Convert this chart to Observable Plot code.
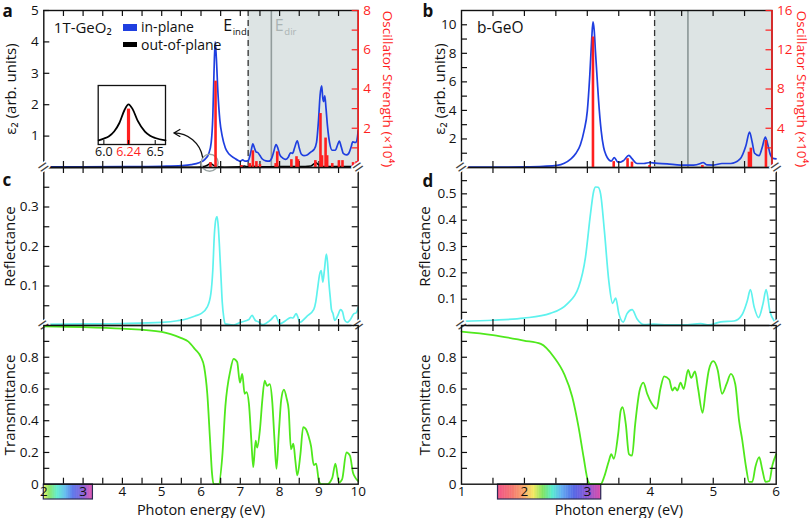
<!DOCTYPE html>
<html><head><meta charset="utf-8">
<script src="https://cdn.jsdelivr.net/npm/d3@7"></script>
<script src="https://cdn.jsdelivr.net/npm/@observablehq/plot@0.6"></script>
<style>
body{margin:0;background:#fff;}
#chart{position:relative;width:810px;height:518px;font-family:"Open Sans",sans-serif;overflow:hidden;background:#fff;}
#chart svg{position:absolute;left:0;top:0;}
.sw{position:absolute;}
.lt{position:absolute;font-size:14px;line-height:14px;color:#111;white-space:nowrap;}
</style></head><body><div id="chart"></div>
<script>
// ================= DATA =================
// Panel a: 1T-GeO2 epsilon_2 (arb. units) vs photon energy (eV)
const epsA_in = [[2.0,0.02],[3.0,0.02],[4.0,0.025],[5.0,0.04],[5.5,0.06],[5.75,0.09],[5.95,0.15],[6.1,0.26],[6.2,0.45],[6.26,0.8],[6.3,1.6],[6.33,3.0],[6.36,4.0],[6.39,3.5],[6.43,2.4],[6.48,1.5],[6.54,1.0],[6.62,0.62],[6.72,0.42],[6.85,0.3],[6.95,0.22],[7.0,0.2],[7.06,0.24],[7.12,0.2],[7.2,0.22],[7.27,0.5],[7.32,0.75],[7.36,0.62],[7.4,0.5],[7.45,0.47],[7.5,0.38],[7.56,0.27],[7.65,0.21],[7.73,0.2],[7.8,0.3],[7.85,0.5],[7.91,0.73],[7.96,0.6],[8.0,0.42],[8.08,0.3],[8.15,0.26],[8.22,0.33],[8.28,0.47],[8.33,0.45],[8.38,0.62],[8.45,0.85],[8.5,0.62],[8.55,0.43],[8.62,0.38],[8.7,0.4],[8.8,0.5],[8.88,0.58],[8.94,0.8],[8.99,1.5],[9.03,2.3],[9.07,2.6],[9.1,2.2],[9.12,2.1],[9.15,2.28],[9.18,1.9],[9.22,1.3],[9.27,0.8],[9.34,0.55],[9.42,0.55],[9.47,0.7],[9.52,0.84],[9.57,0.65],[9.62,0.45],[9.7,0.4],[9.76,0.45],[9.82,0.65],[9.86,0.82],[9.9,0.8],[9.95,0.8],[10.0,1.17]];
const epsA_out = [[2.0,0.0],[5.9,0.01],[6.1,0.04],[6.2,0.1],[6.24,0.14],[6.28,0.1],[6.4,0.03],[6.6,0.01],[7.0,0.02],[7.1,0.05],[7.2,0.02],[7.3,0.04],[7.5,0.02],[8.0,0.03],[8.5,0.03],[8.8,0.05],[8.88,0.12],[8.93,0.15],[8.98,0.1],[9.1,0.03],[9.5,0.03],[10.0,0.04]];
// oscillator strength (x10^4)
const oscA = [[6.24,0.25],[6.37,4.4],[7.03,0.1],[7.24,0.2],[7.32,0.85],[7.41,0.3],[7.5,0.15],[7.9,0.2],[7.94,0.8],[8.3,0.4],[8.43,0.55],[8.47,0.4],[8.91,0.35],[9.04,2.75],[9.08,0.6],[9.17,1.5],[9.21,0.6],[9.34,0.2],[9.51,0.35],[9.6,0.35],[9.87,0.25],[9.96,0.3]];
const gapsA = {Eind: 7.2, Edir: 7.79};
// inset (zoom of out-of-plane peak)
const insetCurve = [[5.95,0.07],[6.0,0.1],[6.05,0.14],[6.1,0.22],[6.15,0.36],[6.2,0.58],[6.24,0.68],[6.28,0.6],[6.33,0.4],[6.4,0.22],[6.45,0.15],[6.5,0.11],[6.6,0.07]];
const insetStick = [[6.24,0.6]];
const insetTicks = [6.0,6.24,6.5];
const insetLabels = ["6.0","6.24","6.5"];
const circleA = [[6.22,0.15]];
const arrowA = [[6.04,0.33,5.31,1.1]];

// Panel b: b-GeO
const epsB_in = [[1.0,0.02],[1.5,0.02],[2.0,0.04],[2.3,0.08],[2.52,0.15],[2.73,0.57],[2.82,1.0],[2.89,1.6],[2.95,2.6],[3.0,3.95],[3.04,6.5],[3.07,9.0],[3.09,10.2],[3.11,9.6],[3.13,8.1],[3.16,6.0],[3.18,4.65],[3.22,2.6],[3.26,1.4],[3.3,0.85],[3.34,0.55],[3.38,0.45],[3.43,0.69],[3.48,0.4],[3.53,0.38],[3.58,0.5],[3.66,0.85],[3.71,0.62],[3.79,0.28],[3.9,0.28],[3.99,0.35],[4.08,0.3],[4.27,0.26],[4.48,0.17],[4.69,0.17],[4.8,0.28],[4.84,0.35],[4.9,0.18],[5.01,0.17],[5.14,0.28],[5.28,0.28],[5.43,0.6],[5.52,1.5],[5.58,2.48],[5.62,1.8],[5.66,1.0],[5.73,0.83],[5.78,1.4],[5.83,2.13],[5.87,1.6],[5.91,0.9],[5.95,0.65],[6.0,0.6]];
const oscB = [[3.09,13.3],[3.42,0.6],[3.64,0.9],[3.71,0.55],[3.99,0.2],[4.83,0.2],[5.57,1.56],[5.6,1.97],[5.84,2.75]];
const gapsB = {Eind: 4.07, Edir: 4.6};

// Panel c: 1T-GeO2 reflectance & transmittance
const reflC = [[2.0,0.003],[3.0,0.004],[4.0,0.005],[5.0,0.008],[5.4,0.012],[5.65,0.017],[5.85,0.024],[6.0,0.03],[6.16,0.047],[6.25,0.08],[6.3,0.14],[6.34,0.23],[6.38,0.27],[6.41,0.276],[6.44,0.25],[6.47,0.2],[6.51,0.12],[6.54,0.06],[6.58,0.02],[6.62,0.004],[6.83,0.001],[7.0,0.008],[7.22,0.015],[7.3,0.026],[7.35,0.018],[7.39,0.012],[7.45,0.01],[7.56,0.002],[7.77,0.014],[7.9,0.026],[7.95,0.015],[8.0,0.004],[8.15,0.012],[8.28,0.02],[8.34,0.019],[8.42,0.03],[8.47,0.02],[8.51,0.008],[8.7,0.024],[8.87,0.041],[8.92,0.06],[8.96,0.088],[9.02,0.13],[9.06,0.139],[9.1,0.11],[9.14,0.14],[9.19,0.181],[9.22,0.16],[9.25,0.114],[9.29,0.07],[9.32,0.04],[9.36,0.03],[9.4,0.013],[9.48,0.025],[9.55,0.04],[9.6,0.035],[9.65,0.015],[9.72,0.008],[9.8,0.015],[9.89,0.03],[9.95,0.032],[10.0,0.046]];
const transC = [[2.0,0.995],[3.0,0.99],[4.0,0.98],[5.0,0.96],[5.5,0.92],[5.67,0.9],[5.85,0.85],[6.0,0.8],[6.08,0.74],[6.16,0.57],[6.23,0.28],[6.28,0.07],[6.32,0.0],[6.45,0.0],[6.54,0.17],[6.62,0.49],[6.75,0.72],[6.83,0.79],[6.92,0.77],[6.99,0.64],[7.05,0.695],[7.11,0.57],[7.16,0.58],[7.22,0.506],[7.28,0.28],[7.33,0.107],[7.39,0.275],[7.43,0.23],[7.5,0.345],[7.56,0.53],[7.62,0.653],[7.68,0.62],[7.75,0.63],[7.81,0.53],[7.87,0.28],[7.92,0.097],[7.98,0.32],[8.04,0.53],[8.11,0.595],[8.18,0.54],[8.23,0.47],[8.29,0.22],[8.35,0.255],[8.4,0.15],[8.45,0.055],[8.53,0.19],[8.6,0.36],[8.66,0.35],[8.74,0.3],[8.8,0.24],[8.87,0.12],[8.93,0.13],[9.0,0.02],[9.06,0.0],[9.21,0.0],[9.34,0.04],[9.42,0.13],[9.51,0.01],[9.59,0.03],[9.7,0.2],[9.79,0.18],[9.87,0.07],[9.93,0.04],[10.0,0.02]];

// Panel d: b-GeO reflectance & transmittance
const reflD = [[1.0,0.016],[1.5,0.02],[1.99,0.028],[2.41,0.046],[2.68,0.082],[2.86,0.145],[2.97,0.26],[3.05,0.425],[3.1,0.51],[3.13,0.526],[3.17,0.525],[3.21,0.5],[3.27,0.36],[3.34,0.17],[3.4,0.084],[3.45,0.104],[3.5,0.045],[3.57,0.013],[3.63,0.045],[3.71,0.06],[3.79,0.025],[3.9,0.003],[4.06,0.005],[4.27,0.002],[4.53,0.002],[4.8,0.007],[4.93,0.002],[5.12,0.014],[5.33,0.017],[5.46,0.042],[5.54,0.093],[5.59,0.136],[5.65,0.07],[5.72,0.03],[5.79,0.082],[5.84,0.136],[5.9,0.054],[5.97,0.017],[6.0,0.01]];
const transD = [[1.0,0.962],[1.5,0.94],[1.99,0.905],[2.26,0.884],[2.47,0.8],[2.63,0.695],[2.76,0.55],[2.86,0.36],[2.94,0.17],[3.01,0.02],[3.05,0.0],[3.21,0.0],[3.27,0.05],[3.34,0.145],[3.38,0.19],[3.42,0.16],[3.49,0.32],[3.53,0.465],[3.56,0.485],[3.61,0.38],[3.66,0.19],[3.71,0.18],[3.76,0.38],[3.83,0.59],[3.89,0.64],[3.95,0.57],[4.02,0.51],[4.1,0.475],[4.16,0.6],[4.22,0.68],[4.3,0.66],[4.35,0.59],[4.39,0.61],[4.43,0.59],[4.48,0.64],[4.53,0.6],[4.6,0.72],[4.65,0.67],[4.71,0.71],[4.76,0.6],[4.83,0.45],[4.88,0.59],[4.93,0.72],[5.0,0.775],[5.07,0.72],[5.14,0.57],[5.21,0.63],[5.28,0.695],[5.35,0.63],[5.41,0.4],[5.46,0.28],[5.52,0.11],[5.57,0.015],[5.62,0.015],[5.67,0.11],[5.73,0.17],[5.78,0.09],[5.83,0.015],[5.89,0.02],[5.94,0.12],[6.0,0.19]];

// visible spectrum colour bars (eV range and colour stops)
const barL = [2.0, 3.25];
const barR = [1.58, 3.22];
const specL_E = [2.0,2.15,2.35,2.55,2.75,3.0,3.25];
const specL_C = ["#f2f040","#6fe046","#3fe8c4","#40b2ea","#3858e6","#6a3fd0","#e030a0"];
const specR_E = [1.58,1.8,2.0,2.15,2.3,2.45,2.6,2.8,3.0,3.22];
const specR_C = ["#ee3a78","#f2605c","#f79a55","#f3e64a","#6be04a","#3fe8c8","#4aa0f0","#3c4ee0","#7a3fd0","#d6309a"];

// ticks and labels
const xLabL = [2,3,4,5,6,7,8,9,10];
const xMinL = [2.5,3,3.5,4,4.5,5,5.5,6,6.5,7,7.5,8,8.5,9,9.5];
const xLabR = [1,2,3,4,5,6];
const xMinR = [1.5,2,2.5,3,3.5,4,4.5,5,5.5];
const epsTicksA = [1,2,3,4,5];
const epsTicksB = [2,4,6,8,10];
const epsMinB = [1,2,3,4,5,6,7,8,9,10];
const oscTicksA = [2,4,6,8];
const oscMinA = [1,2,3,4,5,6,7,8];
const oscTicksB = [4,8,12,16];
const oscMinB = [2,4,6,8,10,12,14,16];
const refTicksC = [0.1,0.2,0.3];
const refMinC = [0.05,0.1,0.15,0.2,0.25,0.3,0.35];
const refTicksD = [0.1,0.2,0.3,0.4,0.5];
const refMinD = [0.05,0.1,0.15,0.2,0.25,0.3,0.35,0.4,0.45,0.5,0.55];
const trTicks = [0,0.2,0.4,0.6,0.8];
const trMin = [0.1,0.2,0.3,0.4,0.5,0.6,0.7,0.8,0.9];

// ================= DRAWING =================
const W = 810, H = 518;
const root = document.getElementById("chart");
const FONT = "'Open Sans', sans-serif";
const BLUE = "#1f3fe0", RED = "#ff1f1f", CYAN = "#5ef2ee", GREEN = "#4fe81c", SHADE = "#dde4e4";
const TL = 6; // tick length
const fmt = d => String(d);

function add({x0, x1, y0, y1, xDomain, yDomain, xAxis = null, yAxis = null, xTicks, yTicks, color = "#111", marks, color_scale}) {
  const o = {
    width: W, height: H,
    marginLeft: x0, marginRight: W - x1, marginTop: y0, marginBottom: H - y1,
    x: {domain: xDomain, axis: xAxis, ticks: xTicks, tickSize: 0, tickPadding: 2.5, label: null, tickFormat: fmt},
    y: {domain: yDomain, axis: yAxis, ticks: yTicks, tickSize: 0, tickPadding: 5, label: null, tickFormat: fmt},
    style: {background: "none", fontFamily: FONT, fontSize: "13.5px", color, overflow: "visible"},
    marks
  };
  if (color_scale) o.color = color_scale;
  const svg = Plot.plot(o);
  root.appendChild(svg);
}
const xTickB = (t, h) => Plot.ruleX(t, {x: d => d, insetTop: h - TL, strokeWidth: 1.2});
const xTickT = (t, h) => Plot.ruleX(t, {x: d => d, insetBottom: h - TL, strokeWidth: 1.2});
const yTickL = (t, w, s = "#111") => Plot.ruleY(t, {y: d => d, insetRight: w - TL, strokeWidth: 1.2, stroke: s});
const yTickR = (t, w, s = "#111") => Plot.ruleY(t, {y: d => d, insetLeft: w - TL, strokeWidth: 1.2, stroke: s});
const brk = (anchor) => Plot.text(["="], {frameAnchor: anchor, text: d => d, rotate: -35, fontSize: 20, textAnchor: "middle", lineAnchor: "middle", fill: "#444", stroke: "white", strokeWidth: 3, paintOrder: "stroke"});
const line = (data, stroke, sw = 1.6) => Plot.line(data, {x: d => d[0], y: d => d[1], stroke, strokeWidth: sw, curve: "monotone-x"});
const vtitle = (txt, anchor, dx, fill = "#111", fs = 15) => Plot.text([txt], {text: d => d, frameAnchor: anchor, rotate: anchor === "left" ? -90 : 90, dx, fill, fontSize: fs, textAnchor: "middle", lineAnchor: "middle"});
const letter = (ch, dx, dy) => Plot.text([ch], {text: d => d, frameAnchor: "top-left", dx, dy, fontSize: 17, fontWeight: "bold", fill: "#111", textAnchor: "start", lineAnchor: "top"});

const L = {x0: 43.3, x1: 357.7, dom: [2, 10]};
const R = {x0: 461, x1: 775.7, dom: [1, 6]};
const RT = {x0: 461, x1: 771.5, dom: [1, 1 + (771.5 - 461) / 62.9]};
const rowA = {y0: 10, y1: 167}, rowR = {y0: 167, y1: 325}, rowT = {y0: 325, y1: 483.7};

// ---------- panel a ----------
{
  const w = L.x1 - L.x0, h = rowA.y1 - rowA.y0;
  add({x0: L.x0, x1: L.x1, ...rowA, xDomain: L.dom, yDomain: [0, 5], yAxis: "left", yTicks: epsTicksA, marks: [
    Plot.rect([[gapsA.Eind, L.dom[1]]], {x1: d => d[0], x2: d => d[1], fill: SHADE}),
    Plot.ruleX([gapsA.Edir], {x: d => d, stroke: "#929c9c", strokeWidth: 1.6}),
    Plot.ruleX([gapsA.Eind], {x: d => d, stroke: "#333", strokeWidth: 1.3, strokeDasharray: "6,4"}),
    line(epsA_in, BLUE, 1.7),
    line(epsA_out, "#000", 1.6),
    Plot.frame({stroke: "#111", strokeWidth: 1.4}),
    xTickT(xMinL, h), xTickB(xMinL, h), yTickL(epsTicksA, w),
    Plot.dot(circleA, {x: d => d[0], y: d => d[1], r: 8.5, stroke: "#9aa4a4", strokeWidth: 1.5, fill: "none"}),
    Plot.arrow(arrowA, {x1: d => d[0], y1: d => d[1], x2: d => d[2], y2: d => d[3], bend: -40, stroke: "#111", strokeWidth: 1.3, headLength: 8}),
    Plot.text([gapsA.Eind], {x: d => d, text: () => "E", frameAnchor: "top", dx: -25, dy: 15, textAnchor: "start", lineAnchor: "middle", fontSize: 16, fill: "#111"}),
    Plot.text([gapsA.Eind], {x: d => d, text: () => "ind", frameAnchor: "top", dx: -15.5, dy: 21.5, textAnchor: "start", lineAnchor: "middle", fontSize: 9.5, fill: "#111"}),
    Plot.text([gapsA.Edir], {x: d => d, text: () => "E", frameAnchor: "top", dx: 3.5, dy: 15, textAnchor: "start", lineAnchor: "middle", fontSize: 16, fill: "#aab3b3"}),
    Plot.text([gapsA.Edir], {x: d => d, text: () => "dir", frameAnchor: "top", dx: 13, dy: 21.5, textAnchor: "start", lineAnchor: "middle", fontSize: 9.5, fill: "#aab3b3"}),
    Plot.text(["1T-GeO₂"], {text: d => d, frameAnchor: "top-left", dx: 10, dy: 18, textAnchor: "start", lineAnchor: "middle", fontSize: 15, fill: "#111"}),
    vtitle("ε₂ (arb. units)", "left", -33),
    letter("a", -41.3, -6),
    brk("bottom-left"), brk("bottom-right")
  ]});
  add({x0: L.x0, x1: L.x1, ...rowA, xDomain: L.dom, yDomain: [0, 8], yAxis: "right", yTicks: oscTicksA, color: RED, marks: [
    Plot.ruleX(oscA, {x: d => d[0], y1: 0, y2: d => d[1], stroke: RED, strokeWidth: 2.6}),
    Plot.ruleX([L.dom[1]], {x: d => d, stroke: RED, strokeWidth: 1.5}),
    yTickR(oscMinA, w, RED),
    vtitle("Oscillator Strength (×10⁴)", "right", 29.5, RED, 13.5)
  ]});
  // inset
  add({x0: 97.7, x1: 165, y0: 85, y1: 144, xDomain: [5.945, 6.6], yDomain: [0, 1], marks: [
    Plot.frame({fill: "white", stroke: "#111", strokeWidth: 1.3}),
    Plot.ruleX(insetStick, {x: d => d[0], y1: 0, y2: d => d[1], stroke: RED, strokeWidth: 3.2}),
    line(insetCurve, "#000", 1.8),
    Plot.ruleX(insetTicks, {x: d => d, insetTop: 59 - 4, strokeWidth: 1.1}),
    Plot.text(insetTicks, {x: d => d, text: (d, i) => insetLabels[i], frameAnchor: "bottom", dy: 11, fontSize: 12.5, fill: d => d === 6.24 ? RED : "#111"})
  ]});
}
// ---------- panel b ----------
{
  const w = RT.x1 - RT.x0, h = rowA.y1 - rowA.y0;
  add({x0: RT.x0, x1: RT.x1, ...rowA, xDomain: RT.dom, yDomain: [0, 11], yAxis: "left", yTicks: epsTicksB, marks: [
    Plot.rect([[gapsB.Eind, RT.dom[1]]], {x1: d => d[0], x2: d => d[1], fill: SHADE}),
    Plot.ruleX([gapsB.Edir], {x: d => d, stroke: "#7e8a8a", strokeWidth: 1.4}),
    Plot.ruleX([gapsB.Eind], {x: d => d, stroke: "#333", strokeWidth: 1.3, strokeDasharray: "6,4"}),
    line(epsB_in, BLUE, 1.7),
    Plot.frame({stroke: "#111", strokeWidth: 1.4}),
    xTickT(xMinR, h), xTickB(xMinR, h), yTickL(epsMinB, w),
    Plot.text(["b-GeO"], {text: d => d, frameAnchor: "top-left", dx: 15.5, dy: 17.5, textAnchor: "start", lineAnchor: "middle", fontSize: 15.5, fill: "#111"}),
    vtitle("ε₂ (arb. units)", "left", -21),
    letter("b", -39, -6),
    brk("bottom-left")
  ]});
  add({x0: RT.x0, x1: RT.x1, ...rowA, xDomain: RT.dom, yDomain: [0, 16], yAxis: "right", yTicks: oscTicksB, color: RED, marks: [
    Plot.ruleX(oscB, {x: d => d[0], y1: 0, y2: d => d[1], stroke: RED, strokeWidth: 2.6}),
    Plot.ruleX([RT.dom[1]], {x: d => d, stroke: RED, strokeWidth: 1.5}),
    yTickR(oscMinB, w, RED),
    vtitle("Oscillator Strength (×10⁴)", "right", 29, RED, 13.5)
  ]});
}
// ---------- panel c ----------
{
  const w = L.x1 - L.x0, h = rowR.y1 - rowR.y0;
  add({x0: L.x0, x1: L.x1, ...rowR, xDomain: L.dom, yDomain: [0, 0.4], yAxis: "left", yTicks: refTicksC, marks: [
    line(reflC, CYAN, 1.7),
    Plot.frame({stroke: "#111", strokeWidth: 1.4}),
    xTickT(xMinL, h), xTickB(xMinL, h), yTickL(refMinC, w), yTickR(refMinC, w),
    vtitle("Reflectance", "left", -34),
    letter("c", -41.3, 6),
    brk("top-left"), brk("top-right"), brk("bottom-left"), brk("bottom-right")
  ]});
  add({x0: L.x0, x1: L.x1, y0: 484, y1: 499, xDomain: L.dom, color_scale: {type: "linear", domain: specL_E, range: specL_C, interpolate: "rgb"}, marks: [
    Plot.rect(d3.range(barL[0], barL[1], 0.01), {x1: d => d, x2: d => Math.min(d + 0.012, barL[1]), fill: d => d + 0.005}),
    Plot.rect([barL], {x1: d => d[0], x2: d => d[1], stroke: "#2a2a55", strokeWidth: 1.2, fill: "none"})
  ]});
  const h2 = rowT.y1 - rowT.y0;
  add({x0: L.x0, x1: L.x1, ...rowT, xDomain: L.dom, yDomain: [0, 1], xAxis: "bottom", xTicks: xLabL, yAxis: "left", yTicks: trTicks, marks: [
    line(transC, GREEN, 1.8),
    Plot.frame({stroke: "#111", strokeWidth: 1.4}),
    xTickT(xMinL, h2), xTickB(xMinL, h2), yTickL(trMin, w), yTickR(trMin, w),
    vtitle("Transmittance", "left", -34),
    Plot.text(["Photon energy (eV)"], {text: d => d, frameAnchor: "bottom", dy: 26.5, fontSize: 14.5, textAnchor: "middle", lineAnchor: "middle", fill: "#111"})
  ]});
}
// ---------- panel d ----------
{
  const w = R.x1 - R.x0, h = rowR.y1 - rowR.y0;
  add({x0: R.x0, x1: R.x1, ...rowR, xDomain: R.dom, yDomain: [0, 0.6], yAxis: "left", yTicks: refTicksD, marks: [
    line(reflD, CYAN, 1.7),
    Plot.frame({stroke: "#111", strokeWidth: 1.4}),
    xTickT(xMinR, h), xTickB(xMinR, h), yTickL(refMinD, w), yTickR(refMinD, w),
    vtitle("Reflectance", "left", -36),
    letter("d", -39, 7.5),
    brk("top-left"), brk("top-right"), brk("bottom-left"), brk("bottom-right")
  ]});
  add({x0: R.x0, x1: R.x1, y0: 484, y1: 499, xDomain: R.dom, color_scale: {type: "linear", domain: specR_E, range: specR_C, interpolate: "rgb"}, marks: [
    Plot.rect(d3.range(barR[0], barR[1], 0.01), {x1: d => d, x2: d => Math.min(d + 0.012, barR[1]), fill: d => d + 0.005}),
    Plot.rect([barR], {x1: d => d[0], x2: d => d[1], stroke: "#2a2a55", strokeWidth: 1.2, fill: "none"})
  ]});
  const h2 = rowT.y1 - rowT.y0;
  add({x0: R.x0, x1: R.x1, ...rowT, xDomain: R.dom, yDomain: [0, 1], xAxis: "bottom", xTicks: xLabR, yAxis: "left", yTicks: trTicks, marks: [
    line(transD, GREEN, 1.8),
    Plot.frame({stroke: "#111", strokeWidth: 1.4}),
    xTickT(xMinR, h2), xTickB(xMinR, h2), yTickL(trMin, w), yTickR(trMin, w),
    vtitle("Transmittance", "left", -36),
    Plot.text(["Photon energy (eV)"], {text: d => d, frameAnchor: "bottom", dy: 26.5, fontSize: 14.5, textAnchor: "middle", lineAnchor: "middle", fill: "#111"})
  ]});
}
// ---------- legend of panel a ----------
const legend = [["in-plane", BLUE, 23.5, 7, 20], ["out-of-plane", "#000", 41.5, 5, 38]];
for (const [label, col, top, hh, ttop] of legend) {
  const s = document.createElement("div");
  s.className = "sw"; s.style.left = "123px"; s.style.top = top + "px"; s.style.width = "13.5px"; s.style.height = hh + "px"; s.style.background = col;
  root.appendChild(s);
  const t = document.createElement("div");
  t.className = "lt"; t.style.left = "141px"; t.style.top = ttop + "px"; t.textContent = label;
  root.appendChild(t);
}
</script></body></html>
